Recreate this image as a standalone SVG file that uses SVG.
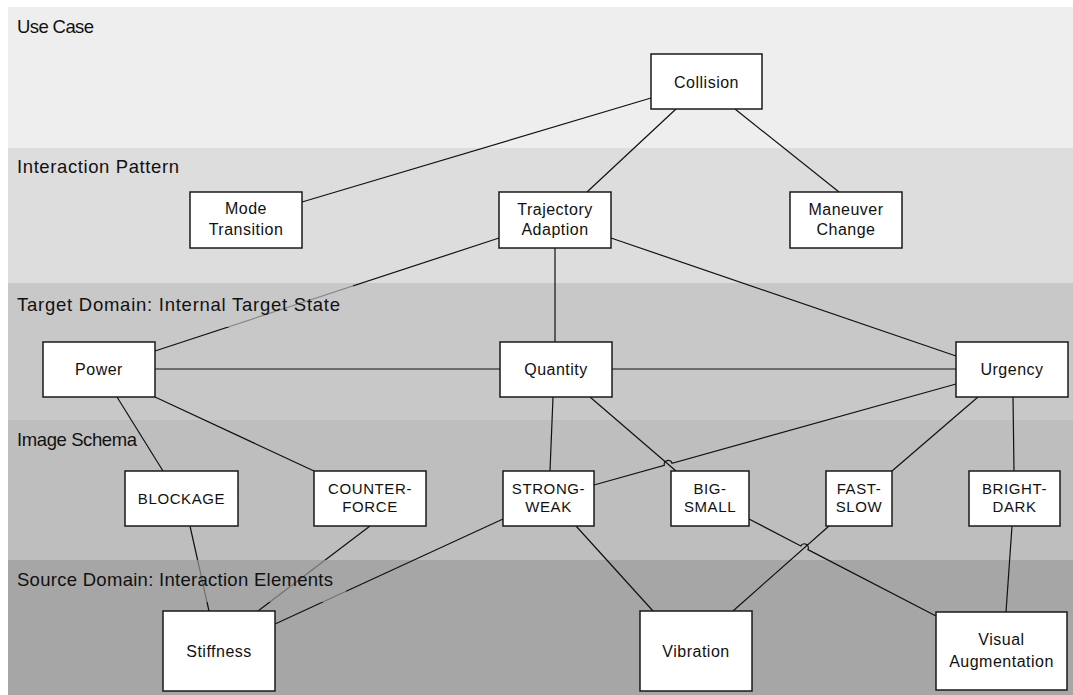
<svg xmlns="http://www.w3.org/2000/svg" width="1073" height="695" viewBox="0 0 1073 695">
  <defs>
    <style>
      .lane-label { font-family: "Liberation Sans", Arial, sans-serif; font-size: 18.5px; fill: #111; }
      .node rect { fill: #ffffff; stroke: #1a1a1a; stroke-width: 1.5; }
      .node text { font-family: "Liberation Sans", Arial, sans-serif; font-size: 16px; fill: #111; text-anchor: middle; letter-spacing: 0.5px; }
      .node.schema text { font-size: 15px; letter-spacing: 0.6px; }
      .edges path { fill: none; stroke: #111; stroke-width: 1.2; }
    </style>
  </defs>

  <rect width="1073" height="695" fill="#ffffff"/>

  <!-- swimlane bands -->
  <g id="lanes">
    <rect x="8" y="7" width="1065" height="141" fill="#eeeeee"/>
    <rect x="8" y="148" width="1065" height="135" fill="#dddddd"/>
    <rect x="8" y="283" width="1065" height="137" fill="#c8c8c8"/>
    <rect x="8" y="420" width="1065" height="140" fill="#bebebe"/>
    <rect x="8" y="560" width="1065" height="135" fill="#a6a6a6"/>
  </g>

  <!-- connectors -->
  <g id="edges" class="edges">
    <path d="M651,98 L302,202"/>
    <path d="M676,109 L587,192"/>
    <path d="M735,109 L839,192"/>
    <path d="M499,238 L155,351"/>
    <path d="M555,248 L555,342"/>
    <path d="M611,238 L956,356"/>
    <path d="M155,369 L500,369"/>
    <path d="M612,369 L956,369"/>
    <path d="M117,397 L163,471"/>
    <path d="M155,397 L314,471"/>
    <path d="M553,397 L550,471"/>
    <path d="M590,397 L676,471"/>
    <path d="M594,485 L664.35,465.38 A4,4 0 0 1 672.05,463.22 L956,384"/>
    <path d="M978,397 L892,471"/>
    <path d="M1013,397 L1014,471"/>
    <path d="M190,526 L209,611"/>
    <path d="M370,526 L258,611"/>
    <path d="M503,519 L275,624"/>
    <path d="M576,526 L653,611"/>
    <path d="M829,526 L733,611"/>
    <path d="M749,519 L800.85,545.96 A4,4 0 0 1 807.95,549.64 L936,616"/>
    <path d="M1012,526 L1006,612"/>
  </g>

  <!-- lane titles on translucent backing -->
  <g id="lane-titles">
    <rect x="8" y="7" width="100" height="44" fill="#eeeeee" fill-opacity="0.65"/>
    <text class="lane-label" x="17" y="33" textLength="77" lengthAdjust="spacing">Use Case</text>
    <rect x="8" y="148" width="185" height="44" fill="#dddddd" fill-opacity="0.65"/>
    <text class="lane-label" x="17" y="173" textLength="162" lengthAdjust="spacing">Interaction Pattern</text>
    <rect x="8" y="283" width="345" height="44" fill="#c8c8c8" fill-opacity="0.65"/>
    <text class="lane-label" x="17" y="311" textLength="323" lengthAdjust="spacing">Target Domain: Internal Target State</text>
    <rect x="8" y="420" width="122" height="44" fill="#bebebe" fill-opacity="0.65"/>
    <text class="lane-label" x="17" y="446" textLength="120" lengthAdjust="spacing">Image Schema</text>
    <rect x="8" y="560" width="338" height="42" fill="#a6a6a6" fill-opacity="0.65"/>
    <text class="lane-label" x="17" y="586" textLength="316" lengthAdjust="spacing">Source Domain: Interaction Elements</text>
  </g>

  <!-- use case -->
  <g id="collision" class="node">
    <rect x="651" y="54" width="111" height="55"/>
    <text x="706.5" y="87.5">Collision</text>
  </g>

  <!-- interaction patterns -->
  <g id="mode-transition" class="node">
    <rect x="190" y="192" width="112" height="56"/>
    <text x="246" y="214">Mode</text>
    <text x="246" y="235">Transition</text>
  </g>
  <g id="trajectory-adaption" class="node">
    <rect x="499" y="192" width="112" height="56"/>
    <text x="555" y="215">Trajectory</text>
    <text x="555" y="235">Adaption</text>
  </g>
  <g id="maneuver-change" class="node">
    <rect x="790" y="192" width="112" height="56"/>
    <text x="846" y="215">Maneuver</text>
    <text x="846" y="235">Change</text>
  </g>

  <!-- target states -->
  <g id="power" class="node">
    <rect x="43" y="342" width="112" height="55"/>
    <text x="99" y="375">Power</text>
  </g>
  <g id="quantity" class="node">
    <rect x="500" y="342" width="112" height="55"/>
    <text x="556" y="375">Quantity</text>
  </g>
  <g id="urgency" class="node">
    <rect x="956" y="342" width="112" height="55"/>
    <text x="1012" y="375">Urgency</text>
  </g>

  <!-- image schemas -->
  <g id="blockage" class="node schema">
    <rect x="125" y="471" width="113" height="55"/>
    <text x="181.5" y="504">BLOCKAGE</text>
  </g>
  <g id="counter-force" class="node schema">
    <rect x="314" y="471" width="112" height="55"/>
    <text x="370" y="494">COUNTER-</text>
    <text x="370" y="512">FORCE</text>
  </g>
  <g id="strong-weak" class="node schema">
    <rect x="503" y="471" width="91" height="55"/>
    <text x="548.5" y="494">STRONG-</text>
    <text x="548.5" y="512">WEAK</text>
  </g>
  <g id="big-small" class="node schema">
    <rect x="671" y="471" width="78" height="55"/>
    <text x="710" y="494">BIG-</text>
    <text x="710" y="512">SMALL</text>
  </g>
  <g id="fast-slow" class="node schema">
    <rect x="826" y="471" width="66" height="55"/>
    <text x="859" y="494">FAST-</text>
    <text x="859" y="512">SLOW</text>
  </g>
  <g id="bright-dark" class="node schema">
    <rect x="969" y="471" width="91" height="55"/>
    <text x="1014.5" y="494">BRIGHT-</text>
    <text x="1014.5" y="512">DARK</text>
  </g>

  <!-- interaction elements -->
  <g id="stiffness" class="node">
    <rect x="163" y="611" width="112" height="80"/>
    <text x="219" y="657">Stiffness</text>
  </g>
  <g id="vibration" class="node">
    <rect x="640" y="611" width="112" height="80"/>
    <text x="696" y="657">Vibration</text>
  </g>
  <g id="visual-augmentation" class="node">
    <rect x="936" y="612" width="131" height="78"/>
    <text x="1001.5" y="645">Visual</text>
    <text x="1001.5" y="667">Augmentation</text>
  </g>
</svg>
